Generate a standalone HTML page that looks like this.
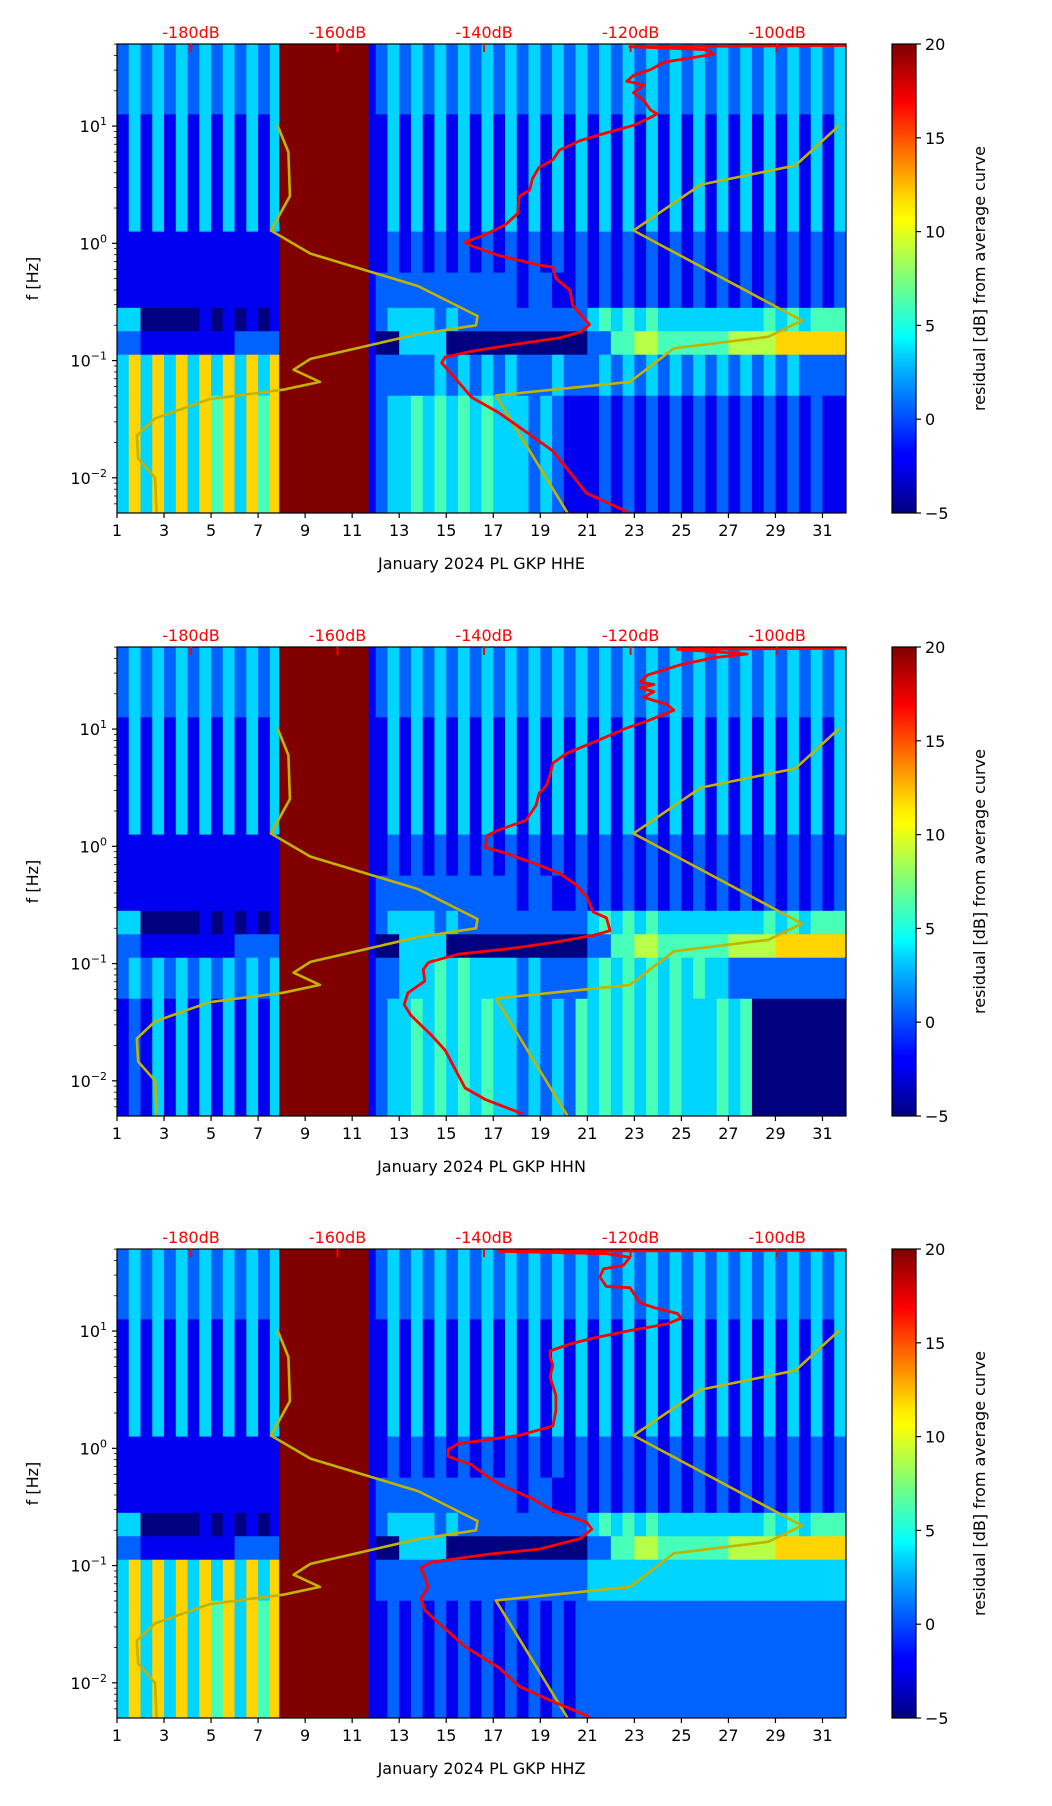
<!DOCTYPE html>
<html><head><meta charset="utf-8"><title>Spectrogram residuals January 2024 PL GKP</title>
<style>
html,body{margin:0;padding:0;background:#fff;}
svg{display:block;font-family:"DejaVu Sans","Liberation Sans",sans-serif;}
</style></head>
<body>
<svg id="fig" width="1052" height="1806" viewBox="0 0 1052 1806" xmlns="http://www.w3.org/2000/svg">
<defs>
<linearGradient id="jet" x1="0" y1="1" x2="0" y2="0">
<stop offset="0" stop-color="#00007f"/><stop offset="0.11" stop-color="#0000ff"/>
<stop offset="0.125" stop-color="#0000ff"/><stop offset="0.34" stop-color="#00d4ff"/>
<stop offset="0.375" stop-color="#00ffff"/><stop offset="0.5" stop-color="#7dff7a"/>
<stop offset="0.625" stop-color="#ffff00"/><stop offset="0.66" stop-color="#ffe600"/>
<stop offset="0.875" stop-color="#ff0000"/><stop offset="1" stop-color="#7f0000"/>
</linearGradient>
</defs>
</svg>
<script>
// ---- data ----
const dayMin = 1, dayMax = 32;
const logFmin = -2.3, logFmax = 1.7;
const dbMin = -190.1, dbMax = -90.6;
const dbTicks = [-180, -160, -140, -120, -100];
const dayTicks = [1,3,5,7,9,11,13,15,17,19,21,23,25,27,29,31];
const decadeTicks = [-2, -1, 0, 1];
const cbTicks = [-5, 0, 5, 10, 15, 20];
const cbMin = -5, cbMax = 20;
const channels = ["HHE", "HHN", "HHZ"];
const gapStart = 7.9, gapEnd = 11.7, gapValue = 20;
const bandEdges = [1.7, 1.1, 0.1, -0.25, -0.55, -0.75, -0.95, -1.3, -2.3];
const upperRows = [
 "2323232323"+"2323111111"+"1123232323"+"2323232323"+"2323232323"+"2323232323"+"23",
 "1313131313"+"1313111111"+"1113131313"+"1313131313"+"1313131313"+"1313131313"+"13",
 "1111111111"+"1111111111"+"1112121212"+"1212121212"+"1212121212"+"1212121212"+"12",
 "1111111111"+"1111111111"+"1122222222"+"2222122112"+"1212121212"+"1212121212"+"12",
 "3300000101"+"0101111111"+"1123333232"+"2222222222"+"3434343333"+"3333343434"+"44",
 "2211111111"+"2222111111"+"1100333300"+"0000000000"+"2244554444"+"4455556666"+"66"
];
const lowerRowsHHE = [
 "3636363636"+"3636111111"+"1122222323"+"2323222322"+"2323232323"+"2323232322"+"22",
 "3636363646"+"3646111111"+"1123343434"+"3433323211"+"1212121212"+"1212121212"+"11"
];
const lowerRowsHHN = [
 "2323232323"+"2323111111"+"1122333434"+"3333232222"+"3434343434"+"3322222222"+"22",
 "1213131313"+"1313111111"+"1123343434"+"3433232324"+"3434343433"+"3434000000"+"00"
];
const lowerRowsHHZ = [
 "3636363636"+"3636111111"+"1122222222"+"2222222222"+"3333333333"+"3333333333"+"33",
 "3636363646"+"3646111111"+"1112121212"+"1212121212"+"2222222222"+"2222222222"+"22"
];
const psdDbHHE = [-90.1,-120.1,-109.5,-108.7,-115.4,-117.3,-119.6,-120.5,-118.2,-119.6,-118.2,-117.3,-116.4,-117.3,-119.6,-123.3,-126.9,-129.7,-130.6,-132.5,-133.4,-133.8,-135.2,-135.4,-137.1,-139.8,-142.6,-141.7,-138.0,-132.5,-130.6,-130.2,-128.3,-127.9,-125.6,-126.9,-129.7,-135.2,-141.7,-145.3,-145.8,-144.4,-141.7,-138.0,-134.3,-130.6,-126.0,-120.1];
const psdLogFHHE = [1.687,1.677,1.651,1.612,1.546,1.481,1.432,1.383,1.350,1.285,1.220,1.138,1.105,1.073,1.007,0.942,0.876,0.795,0.712,0.647,0.550,0.452,0.403,0.255,0.158,0.076,0.010,-0.022,-0.104,-0.186,-0.202,-0.300,-0.398,-0.529,-0.692,-0.758,-0.807,-0.856,-0.921,-0.970,-1.019,-1.117,-1.313,-1.444,-1.607,-1.771,-2.131,-2.300];
const psdDbHHN = [-90.1,-113.6,-108.6,-104.1,-108.6,-113.1,-117.7,-118.7,-116.8,-118.7,-116.8,-118.2,-115.0,-114.1,-117.7,-120.5,-124.2,-126.9,-128.8,-130.6,-131.0,-131.5,-132.5,-132.9,-134.3,-138.0,-139.6,-139.8,-137.5,-133.4,-129.7,-127.4,-126.0,-125.1,-123.3,-122.8,-125.1,-130.6,-136.1,-143.5,-147.6,-148.3,-148.1,-150.4,-150.9,-150.0,-147.2,-145.3,-142.6,-139.8,-134.8];
const psdLogFHHN = [1.69,1.68,1.66,1.64,1.61,1.55,1.46,1.40,1.38,1.35,1.32,1.27,1.21,1.16,1.07,1.01,0.91,0.84,0.79,0.71,0.61,0.52,0.45,0.35,0.22,0.14,0.09,-0.01,-0.05,-0.14,-0.23,-0.33,-0.43,-0.56,-0.61,-0.72,-0.76,-0.82,-0.87,-0.92,-0.99,-1.05,-1.15,-1.25,-1.35,-1.44,-1.61,-1.74,-2.06,-2.16,-2.28];
const psdDbHHZ = [-90.1,-138.0,-123.3,-120.1,-121.0,-123.7,-124.2,-123.3,-120.1,-118.7,-116.8,-113.6,-113.1,-115.0,-119.6,-125.1,-128.3,-131.0,-131.0,-130.6,-131.0,-130.2,-130.2,-130.6,-135.2,-143.5,-144.9,-144.9,-141.7,-139.8,-137.5,-133.4,-130.6,-126.0,-125.3,-126.9,-132.5,-138.9,-147.2,-148.6,-147.6,-148.6,-148.1,-145.3,-142.6,-139.8,-138.0,-135.2,-130.6,-125.6];
const psdLogFHHZ = [1.69,1.68,1.66,1.63,1.56,1.53,1.46,1.38,1.37,1.24,1.20,1.15,1.11,1.06,1.01,0.94,0.89,0.83,0.78,0.71,0.61,0.45,0.32,0.19,0.11,0.04,-0.01,-0.07,-0.14,-0.23,-0.32,-0.43,-0.53,-0.63,-0.69,-0.77,-0.86,-0.90,-0.97,-1.02,-1.18,-1.28,-1.38,-1.54,-1.69,-1.80,-1.87,-2.03,-2.16,-2.29];
const lowModelDb = [-168.2,-166.7,-166.5,-169.1,-163.7,-149.0,-140.9,-141.1,-149.0,-163.7,-166.0,-162.4,-167.4,-177.5,-184.9,-187.4,-187.2,-184.9,-184.7];
const lowModelLogF = [1.007,0.778,0.403,0.109,-0.088,-0.365,-0.620,-0.699,-0.774,-0.986,-1.078,-1.182,-1.248,-1.329,-1.493,-1.640,-1.836,-2.0,-2.3];
const highModelDb = [-91.5,-97.5,-110.4,-119.6,-96.6,-101.2,-114.1,-120.1,-138.4,-128.6];
const highModelLogF = [1.007,0.664,0.501,0.109,-0.659,-0.797,-0.895,-1.182,-1.297,-2.3];

// ---- layout ----
const NS = "http://www.w3.org/2000/svg";
const svg = document.getElementById("fig");
const L = 117, R = 846, H = 469;
const panelTops = [44, 647, 1249];
const CBL = 892, CBR = 916;

function el(tag, attrs, parent, text) {
  const e = document.createElementNS(NS, tag);
  for (const k in attrs) e.setAttribute(k, attrs[k]);
  if (text !== undefined) e.textContent = text;
  parent.appendChild(e);
  return e;
}
function jet(t) {
  t = Math.max(0, Math.min(1, t));
  const c = v => Math.round(255 * Math.max(0, Math.min(1, v)));
  return `rgb(${c(1.5 - Math.abs(4*t - 3))},${c(1.5 - Math.abs(4*t - 2))},${c(1.5 - Math.abs(4*t - 1))})`;
}
function digitToValue(d) { return cbMin + d * (cbMax - cbMin) / 9; }

const lowerSets = [lowerRowsHHE, lowerRowsHHN, lowerRowsHHZ];
const psdDbs = [psdDbHHE, psdDbHHN, psdDbHHZ];
const psdLogFs = [psdLogFHHE, psdLogFHHN, psdLogFHHZ];

channels.forEach((ch, pi) => {
  const T = panelTops[pi];
  const xDay = d => L + (d - dayMin) / (dayMax - dayMin) * (R - L);
  const yF = lf => T + (logFmax - lf) / (logFmax - logFmin) * H;
  const xDb = db => L + (db - dbMin) / (dbMax - dbMin) * (R - L);
  const g = el("g", {}, svg);
  
  
  const clipId = "clip" + pi;
  const cp = el("clipPath", {id: clipId}, g);
  el("rect", {x: L, y: T, width: R - L, height: H}, cp);

  const hm = el("g", {"clip-path": `url(#${clipId})`}, g);
  
  
  const rows = upperRows.concat(lowerSets[pi]);
  rows.forEach((row, ri) => {
    const y0 = yF(bandEdges[ri]), y1 = yF(bandEdges[ri + 1]);
    for (let c = 0; c < row.length; c++) {
      const d0 = dayMin + c * 0.5;
      const v = digitToValue(+row[c]);
      const r = el("rect", {x: xDay(d0).toFixed(2), y: y0.toFixed(2), width: (xDay(d0 + 0.5) - xDay(d0) + 0.4).toFixed(2), height: (y1 - y0 + 0.4).toFixed(2), fill: jet((v - cbMin) / (cbMax - cbMin))}, hm);
      
      
    }
  });
  const gap = el("rect", {x: xDay(gapStart), y: T, width: xDay(gapEnd) - xDay(gapStart), height: H, fill: jet((gapValue - cbMin) / (cbMax - cbMin))}, hm);
  
  

  const curves = el("g", {"clip-path": `url(#${clipId})`, fill: "none", "stroke-linejoin": "round"}, g);
  const pts = (dbs, lfs) => dbs.map((v, i) => xDb(v).toFixed(1) + "," + yF(lfs[i]).toFixed(1)).join(" ");
  const lo = el("polyline", {points: pts(lowModelDb, lowModelLogF), stroke: "#c2b300", "stroke-width": 2.6}, curves);
  
  
  const hi = el("polyline", {points: pts(highModelDb, highModelLogF), stroke: "#c2b300", "stroke-width": 2.6}, curves);
  
  
  const psd = el("polyline", {points: pts(psdDbs[pi], psdLogFs[pi]), stroke: "#ff0000", "stroke-width": 2.8}, curves);
  
  

  const fr = el("rect", {x: L, y: T, width: R - L, height: H, fill: "none", stroke: "#000", "stroke-width": 1.2}, g);
  
  

  dbTicks.forEach(db => {
    const x = xDb(db);
    const tk = el("line", {x1: x, y1: T, x2: x, y2: T + 8, stroke: "#ff0000", "stroke-width": 2}, g);
    
    
    const tl = el("text", {x: x, y: T - 6, "text-anchor": "middle", "font-size": 16, fill: "#ff0000"}, g, db + "dB");
    
    
  });

  dayTicks.forEach(d => {
    const x = xDay(d);
    const tk = el("line", {x1: x, y1: T + H, x2: x, y2: T + H + 5, stroke: "#000", "stroke-width": 1.2}, g);
    
    
    const tl = el("text", {x: x, y: T + H + 23, "text-anchor": "middle", "font-size": 16}, g, d);
    
    
  });
  const xt = el("text", {x: (L + R) / 2, y: T + H + 56, "text-anchor": "middle", "font-size": 16}, g, "January 2024 PL GKP  " + ch);
  
  

  for (let dec = -3; dec <= 1; dec++) {
    for (let m = 1; m <= 9; m++) {
      const lf = dec + Math.log10(m);
      if (lf < logFmin || lf > logFmax) continue;
      const y = yF(lf);
      const tk = el("line", {x1: L, y1: y, x2: L - (m === 1 ? 5 : 3), y2: y, stroke: "#000", "stroke-width": m === 1 ? 1.2 : 0.8}, g);
      
      
    }
  }
  decadeTicks.forEach(dec => {
    const y = yF(dec);
    const tl = el("text", {x: L - 10, y: y + 6, "text-anchor": "end", "font-size": 16}, g);
    
    
    el("tspan", {}, tl, "10");
    el("tspan", {dy: -7, "font-size": 11}, tl, String(dec).replace("-", "\u2212"));
  });
  const yt = el("text", {x: 38, y: T + H / 2, "text-anchor": "middle", "font-size": 16, transform: `rotate(-90 38 ${T + H / 2})`}, g, "f [Hz]");
  
  

  const cb = el("rect", {x: CBL, y: T, width: CBR - CBL, height: H, fill: "url(#jet)", stroke: "#000", "stroke-width": 1.2}, g);
  
  
  cbTicks.forEach(v => {
    const y = T + H - (v - cbMin) / (cbMax - cbMin) * H;
    const tk = el("line", {x1: CBR, y1: y, x2: CBR + 5, y2: y, stroke: "#000", "stroke-width": 1.2}, g);
    
    
    const tl = el("text", {x: CBR + 9, y: y + 6, "font-size": 16}, g, String(v).replace("-", "\u2212"));
    
    
  });
  const cx = 985, cy = T + H / 2;
  const ct = el("text", {x: cx, y: cy, "text-anchor": "middle", "font-size": 16, transform: `rotate(-90 ${cx} ${cy})`}, g, "residual [dB] from average curve");
  
  
});
</script>
</body></html>
